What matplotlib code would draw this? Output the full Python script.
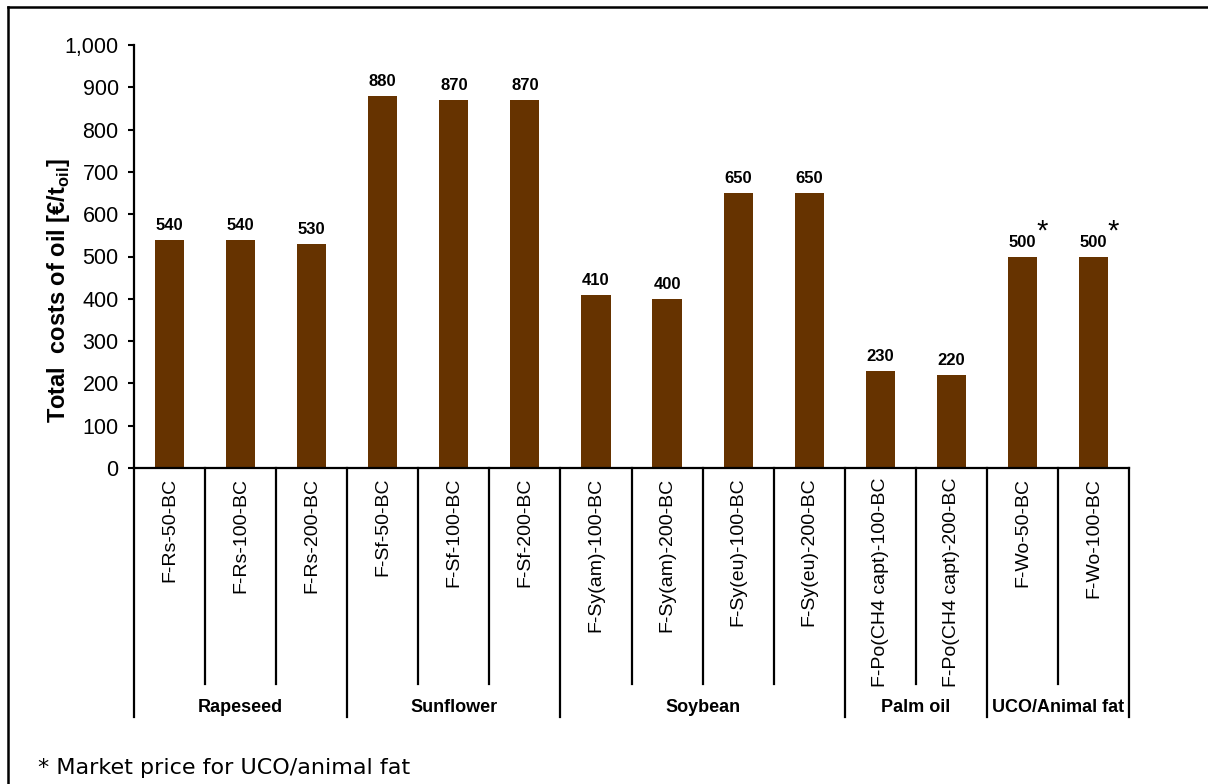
import matplotlib
matplotlib.use("Agg")
import matplotlib.pyplot as plt
from matplotlib.lines import Line2D
from matplotlib.ticker import FuncFormatter, MultipleLocator

plt.rcParams["font.family"] = ["Liberation Sans", "DejaVu Sans"]

# Oil cost per scenario (EUR per tonne of oil)
scenarios = [
    "F-Rs-50-BC", "F-Rs-100-BC", "F-Rs-200-BC",
    "F-Sf-50-BC", "F-Sf-100-BC", "F-Sf-200-BC",
    "F-Sy(am)-100-BC", "F-Sy(am)-200-BC", "F-Sy(eu)-100-BC", "F-Sy(eu)-200-BC",
    "F-Po(CH4 capt)-100-BC", "F-Po(CH4 capt)-200-BC",
    "F-Wo-50-BC", "F-Wo-100-BC",
]
costs = [540, 540, 530, 880, 870, 870, 410, 400, 650, 650, 230, 220, 500, 500]
market_price = [False] * 12 + [True, True]

feedstocks = ["Rapeseed", "Sunflower", "Soybean", "Palm oil", "UCO/Animal fat"]
group_sizes = [3, 3, 4, 2, 2]

bar_color = "#663300"

W, H = 1208, 784
fig = plt.figure(figsize=(W / 100, H / 100), dpi=100)
ax = fig.add_axes([134 / W, (H - 468) / H, (1129 - 134) / W, (468 - 45) / H])

x = list(range(len(scenarios)))
bars = ax.bar(x, costs, width=0.41, color=bar_color, zorder=2)

ax.set_xlim(-0.5, len(scenarios) - 0.5)
ax.set_ylim(0, 1000)
ax.yaxis.set_major_locator(MultipleLocator(100))
ax.yaxis.set_major_formatter(FuncFormatter(lambda v, p: f"{int(v):,}"))
ax.tick_params(axis="y", labelsize=15.5, length=4, width=1.5, direction="out", pad=7)
ax.set_xticks(x)
ax.set_xticklabels(scenarios, rotation=90, fontsize=14)
ax.tick_params(axis="x", length=0, pad=7)

for side in ("top", "right"):
    ax.spines[side].set_visible(False)
for side in ("left", "bottom"):
    ax.spines[side].set_linewidth(1.6)

ax.set_ylabel(r"Total  costs of oil [€/t$_{\mathregular{oil}}$]",
              fontsize=17, fontweight="bold")
ax.yaxis.set_label_coords(-0.062, 0.42)

# value labels above bars
for xi, val, star in zip(x, costs, market_price):
    ax.annotate(f"{val}", (xi, val), xytext=(0, 5), textcoords="offset points",
                ha="center", va="bottom", fontsize=12, fontweight="bold")
    if star:
        ax.annotate("*", (xi, val), xytext=(14, 8), textcoords="offset points",
                    ha="center", va="bottom", fontsize=21)

# category separators below the axis
trans = ax.get_xaxis_transform()
tick_depth = -(684 - 468) / 423
group_depth = -(717 - 468) / 423
bounds = [-0.5]
for n in group_sizes:
    bounds.append(bounds[-1] + n)
for i in range(len(scenarios) + 1):
    xb = i - 0.5
    depth = group_depth if xb in bounds else tick_depth
    ax.add_line(Line2D([xb, xb], [0, depth], transform=trans, color="black",
                       lw=1.6, clip_on=False))

for name, lo, hi in zip(feedstocks, bounds[:-1], bounds[1:]):
    ax.text((lo + hi) / 2, -(707 - 468) / 423, name, transform=trans,
            ha="center", va="center", fontsize=13, fontweight="bold")

# outer frame (top and left edges)
fig.add_artist(Line2D([8 / W, 8 / W], [0, 1 - 7 / H], color="black", lw=1.8))
fig.add_artist(Line2D([8 / W, 1], [1 - 7 / H, 1 - 7 / H], color="black", lw=1.8))

fig.text(38 / W, 1 - 774 / H, "* Market price for UCO/animal fat",
         family="DejaVu Sans", fontsize=16, va="baseline", ha="left")

fig.savefig("out.png", dpi=100)
